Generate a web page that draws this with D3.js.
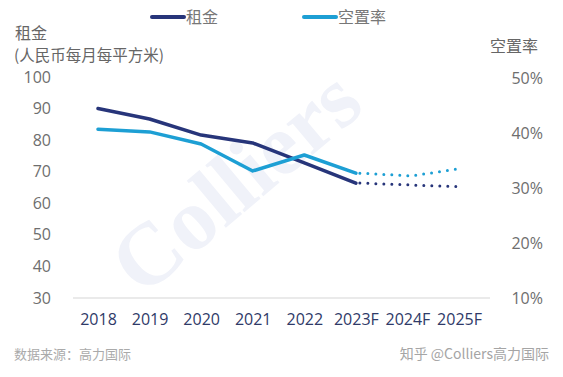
<!DOCTYPE html>
<html>
<head>
<meta charset="utf-8">
<script src="https://cdn.jsdelivr.net/npm/d3@7"></script>
<style>
  body { margin: 0; background: #fff; }
</style>
</head>
<body>
<div class="chart"></div>
<script>
// 資料
const years = ["2018", "2019", "2020", "2021", "2022", "2023F", "2024F", "2025F"]
const rent = [90, 86.7, 81.6, 79.1, 72.8, 66.4, 65.8, 65.2]
const vacancy = [40.7, 40.2, 38.0, 33.1, 36.0, 32.7, 32.2, 33.6]
const leftTicks = [30, 40, 50, 60, 70, 80, 90, 100]
const rightTicks = [10, 20, 30, 40, 50]
const lastActual = 5 // 2023F 之後用點線

const width = 563
const height = 377
const cjk = '"Noto Sans CJK SC", sans-serif'
const latin = '"Open Sans", sans-serif'

const svg = d3.select('.chart')
  .append('svg')
  .attr('width', width)
  .attr('height', height)

// 浮水印
svg.append('text')
  .attr('transform', 'translate(142,298) rotate(-40)')
  .style('font-family', '"Liberation Serif", "DejaVu Serif", serif')
  .attr('font-weight', 'bold')
  .attr('font-size', 88)
  .attr('fill', '#f0f2f9')
  .text('Colliers')

// 比例尺
const xScale = d3.scalePoint()
  .domain(years)
  .range([98, 459])

const yLeft = d3.scaleLinear()
  .domain([30, 100])
  .range([298, 77])

const yRight = d3.scaleLinear()
  .domain([10, 50])
  .range([298, 78])

// 底線
svg.append('line')
  .attr('x1', 73).attr('x2', 490)
  .attr('y1', 298).attr('y2', 298)
  .attr('stroke', '#e3e3e3')
  .attr('stroke-width', 1.5)

// 左軸
const leftAxis = svg.append('g')
  .attr('transform', 'translate(51,0)')
  .call(d3.axisLeft(yLeft).tickValues(leftTicks).tickSize(0).tickPadding(0))
leftAxis.select('.domain').remove()
leftAxis.selectAll('text')
  .attr('font-size', 16)
  .attr('fill', '#6e6e6e')
  .style('font-family', latin)

// 右軸
const rightAxis = svg.append('g')
  .attr('transform', 'translate(543,0)')
  .call(d3.axisLeft(yRight).tickValues(rightTicks).tickFormat(d => d + '%').tickSize(0).tickPadding(0))
rightAxis.select('.domain').remove()
rightAxis.selectAll('text')
  .attr('font-size', 16)
  .attr('fill', '#6e6e6e')
  .style('font-family', latin)

// X 軸
const xAxis = svg.append('g')
  .attr('transform', 'translate(0,313)')
  .call(d3.axisBottom(xScale).tickSize(0).tickPadding(0))
xAxis.select('.domain').remove()
xAxis.selectAll('text')
  .attr('font-size', 16)
  .attr('fill', '#2f3a68')
  .attr('dy', '0.75em')
  .style('font-family', latin)

// 軸標題
svg.append('text')
  .attr('x', 15).attr('y', 39)
  .attr('font-size', 16).attr('fill', '#666')
  .style('font-family', cjk)
  .text('租金')
svg.append('text')
  .attr('x', 14).attr('y', 61)
  .attr('font-size', 15.5).attr('fill', '#666')
  .style('font-family', cjk)
  .text('(人民币每月每平方米)')
svg.append('text')
  .attr('x', 538).attr('y', 52)
  .attr('text-anchor', 'end')
  .attr('font-size', 16).attr('fill', '#666')
  .style('font-family', cjk)
  .text('空置率')

// 線
const series = [
  { name: '租金', values: rent, y: yLeft, color: '#27357a' },
  { name: '空置率', values: vacancy, y: yRight, color: '#1d9fd4' }
]

series.forEach(s => {
  const pts = s.values.map((v, i) => ({ v, i }))
  const solid = pts.filter(p => p.i <= lastActual)
  const dotted = pts.filter(p => p.i >= lastActual)
  const line = d3.line().x(p => xScale(years[p.i])).y(p => s.y(p.v))

  svg.append('path')
    .datum(solid)
    .attr('fill', 'none')
    .attr('stroke', s.color)
    .attr('stroke-width', 3.5)
    .attr('stroke-linejoin', 'round')
    .attr('stroke-linecap', 'round')
    .attr('d', line)

  svg.append('path')
    .datum(dotted)
    .attr('fill', 'none')
    .attr('stroke', s.color)
    .attr('stroke-width', 3)
    .attr('stroke-linecap', 'round')
    .attr('stroke-dasharray', '0 8')
    .attr('transform', 'translate(4,0)')
    .attr('d', line)
})

// 圖例
const legendX = [150, 302]
series.forEach((s, i) => {
  const g = svg.append('g').attr('transform', `translate(${legendX[i]},17)`)
  g.append('line')
    .attr('x1', 2).attr('x2', 34)
    .attr('stroke', s.color)
    .attr('stroke-width', 4)
    .attr('stroke-linecap', 'round')
  g.append('text')
    .attr('x', 36).attr('y', 6)
    .attr('font-size', 16).attr('fill', '#777')
    .style('font-family', cjk)
    .text(s.name)
})

// 資料來源
svg.append('text')
  .attr('x', 14).attr('y', 359)
  .attr('font-size', 13).attr('fill', '#aaa')
  .style('font-family', cjk)
  .text('数据来源：高力国际')

svg.append('text')
  .attr('x', 549).attr('y', 359)
  .attr('text-anchor', 'end')
  .attr('font-size', 14).attr('fill', '#a5a5a5')
  .style('font-family', cjk)
  .text('知乎 @Colliers高力国际')
</script>
</body>
</html>
